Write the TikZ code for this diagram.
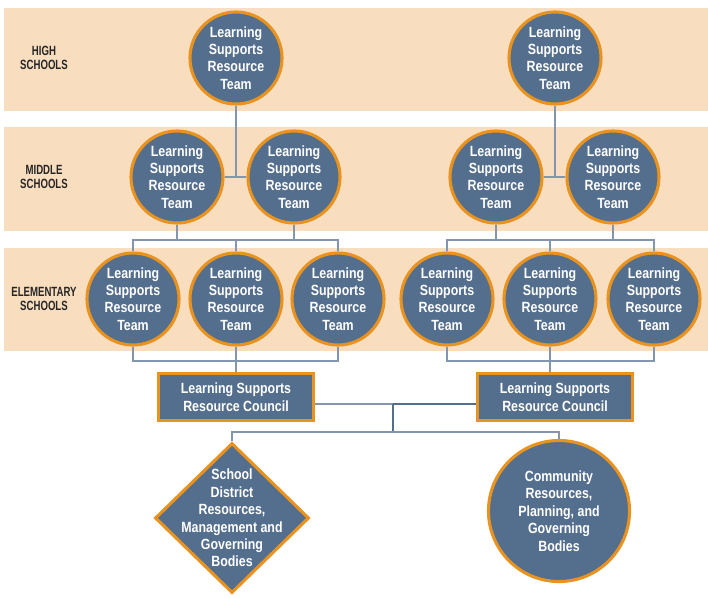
\documentclass[tikz,border=0pt]{standalone}
\usepackage{fontspec}
\setmainfont{Liberation Sans}[FakeStretch=0.84]
\newfontfamily\rowfont{Liberation Sans}[FakeStretch=0.72]
\usetikzlibrary{shapes.geometric}

\definecolor{teamblue}{HTML}{546E8E}
\definecolor{rimorange}{HTML}{E8931F}
\definecolor{bandpeach}{HTML}{F9DDBF}
\definecolor{linkgray}{HTML}{8396AE}
\definecolor{linkdark}{HTML}{566E8E}

\tikzset{
  team/.style={circle, draw=rimorange, fill=teamblue, line width=2.2pt,
    minimum size=2.3cm, inner sep=0pt, text=white, align=center,
    font=\bfseries\fontsize{10.5}{12.4}\selectfont},
  council/.style={rectangle, draw=rimorange, fill=teamblue, line width=2.2pt,
    minimum width=3.875cm, minimum height=1.175cm, inner sep=0pt, text=white,
    align=center, font=\bfseries\fontsize{10.5}{12.8}\selectfont},
  district/.style={diamond, draw=rimorange, fill=teamblue, line width=2.2pt,
    minimum width=3.85cm, minimum height=3.75cm, inner sep=0pt},
  bodytext/.style={text=white, align=center, font=\bfseries\fontsize{10.5}{12.4}\selectfont},
  band/.style={fill=bandpeach},
  rowlabel/.style={align=center, text=black!85,
    font=\rowfont\bfseries\fontsize{9.5}{10.2}\selectfont},
  link/.style={draw=linkgray, line width=1pt},
  linkstrong/.style={draw=linkdark, line width=1pt}
}

\begin{document}
\begin{tikzpicture}[x=0.025cm, y=-0.025cm]
    \useasboundingbox (0,0) rectangle (708,597);

    % fasce dei livelli
    \fill[band] (4,8) rectangle (708,111);
    \fill[band] (4,127) rectangle (708,231);
    \fill[band] (4,248) rectangle (708,351);

    \node[rowlabel] (lh) at (44,58) {HIGH\\SCHOOLS};
    \node[rowlabel] (lm) at (44,177) {MIDDLE\\SCHOOLS};
    \node[rowlabel] (le) at (44,299) {ELEMENTARY\\SCHOOLS};

    % squadre
    \node[team] (h1) at (236,58) {Learning\\Supports\\Resource\\Team};
    \node[team] (h2) at (555,58) {Learning\\Supports\\Resource\\Team};

    \node[team] (m1) at (177,177) {Learning\\Supports\\Resource\\Team};
    \node[team] (m2) at (294,177) {Learning\\Supports\\Resource\\Team};
    \node[team] (m3) at (496,177) {Learning\\Supports\\Resource\\Team};
    \node[team] (m4) at (613,177) {Learning\\Supports\\Resource\\Team};

    \node[team] (e1) at (133,299) {Learning\\Supports\\Resource\\Team};
    \node[team] (e2) at (236,299) {Learning\\Supports\\Resource\\Team};
    \node[team] (e3) at (338,299) {Learning\\Supports\\Resource\\Team};
    \node[team] (e4) at (447,299) {Learning\\Supports\\Resource\\Team};
    \node[team] (e5) at (550,299) {Learning\\Supports\\Resource\\Team};
    \node[team] (e6) at (654,299) {Learning\\Supports\\Resource\\Team};

    % consigli
    \node[council] (c1) at (236,397) {Learning Supports\\Resource Council};
    \node[council] (c2) at (555,397) {Learning Supports\\Resource Council};

    % risorse
    \node[district] (sdr) at (232,518) {};
    \node[bodytext] (sdrtext) at (sdr) {School\\District\\Resources,\\Management and\\Governing\\Bodies};
    \node[team, minimum size=3.525cm] (com) at (559,511) {Community\\Resources,\\Planning, and\\Governing\\Bodies};

    % punti di giunzione
    \coordinate (et1) at (236,240);
    \coordinate (et2) at (550,240);
    \coordinate (eb1) at (236,361);
    \coordinate (eb2) at (550,361);
    \coordinate (cj) at (393,404);
    \coordinate (bj) at (393,432);

    % collegamenti
    \draw[link] (h1.south) -- (h1 |- m1);
    \draw[link] (m1.east) -- (m2.west);
    \draw[link] (h2.south) -- (h2 |- m3);
    \draw[link] (m3.east) -- (m4.west);

    \draw[link] (e1.north) |- (et1) -| (e3.north);
    \draw[link] (e2.north) -- (et1);
    \draw[link] (m1.south) -- (m1 |- et1);
    \draw[link] (m2.south) -- (m2 |- et1);
    \draw[link] (e4.north) |- (et2) -| (e6.north);
    \draw[link] (e5.north) -- (et2);
    \draw[link] (m3.south) -- (m3 |- et2);
    \draw[link] (m4.south) -- (m4 |- et2);

    \draw[link] (e1.south) |- (eb1) -| (e3.south);
    \draw[link] (e2.south) -- (c1.north);
    \draw[link] (e4.south) |- (eb2) -| (e6.south);
    \draw[link] (e5.south) -- (c2.north -| e5);

    \draw[link] (c1.east |- cj) -- (cj);
    \draw[linkstrong] (cj) -- (c2.west |- cj);
    \draw[linkstrong] (cj) -- (bj);
    \draw[link] (sdr.north) |- (bj) -| (com.north);
\end{tikzpicture}
\end{document}
